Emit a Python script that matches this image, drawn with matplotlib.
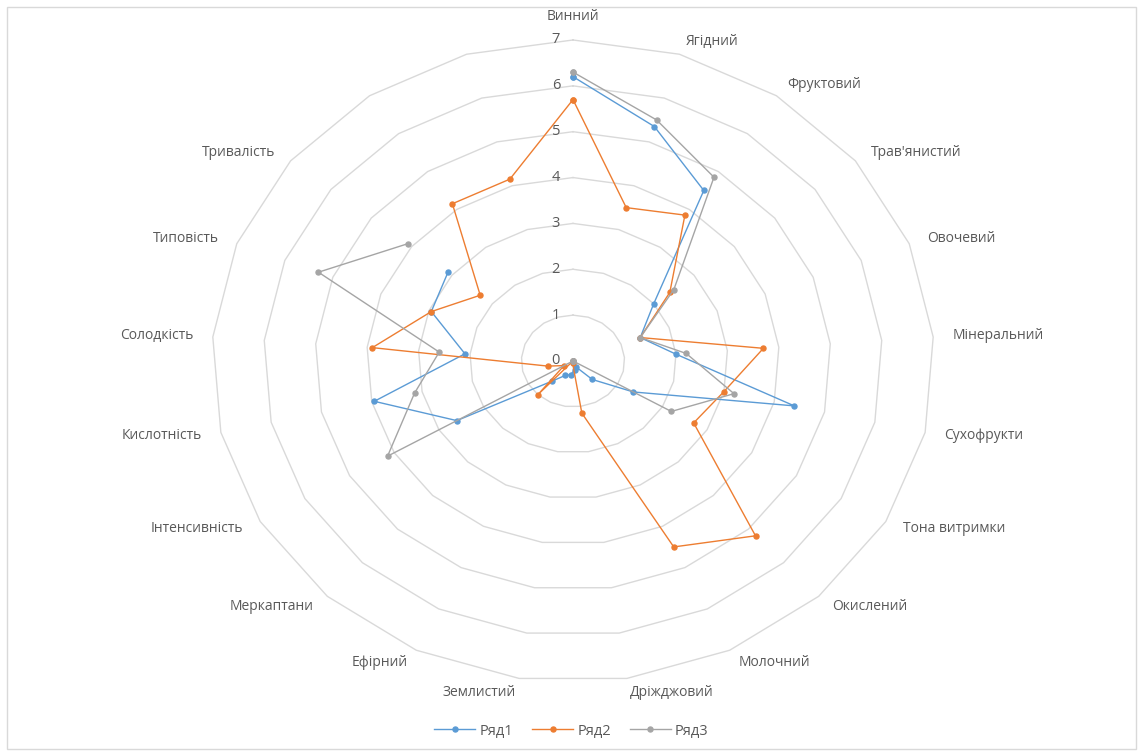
import numpy as np
import matplotlib
matplotlib.use("Agg")
import matplotlib.pyplot as plt
from matplotlib.patches import Rectangle

plt.rcParams['font.family'] = ['Open Sans', 'DejaVu Sans']

# radar categories (two last spokes have no name in the source sheet)
categories = ['Винний', 'Ягідний', 'Фруктовий', "Трав'янистий", 'Овочевий',
              'Мінеральний', 'Сухофрукти', 'Тона витримки', 'Окислений',
              'Молочний', 'Дріжджовий', 'Землистий', 'Ефірний', 'Меркаптани',
              'Інтенсивність', 'Кислотність', 'Солодкість', 'Типовість',
              'Тривалість', '', '']

nan = np.nan
row1 = [6.2, 5.35, 4.5, 2.0, 1.4, 2.0, 4.4, 1.35, 0.55, 0.15, 0.2,
        0.3, 0.35, 0.6, 2.6, 3.95, 2.1, 2.95, 3.1, nan, nan]
row2 = [5.7, 3.5, 3.85, 2.4, 1.4, 3.7, 3.0, 2.7, 5.2, 4.5, 1.15,
        0.05, 0.0, 1.0, 0.2, 0.5, 3.9, 2.95, 2.3, 4.15, 4.15]
row3 = [6.3, 5.5, 4.85, 2.5, 1.4, 2.2, 3.2, 2.2, 0.0, 0.0, 0.0,
        0.0, 0.0, 0.0, 4.15, 3.15, 2.6, 5.3, 4.1, nan, nan]
series_names = ['Ряд1', 'Ряд2', 'Ряд3']
colors = ['#5B9BD5', '#ED7D31', '#A5A5A5']
ticks = [0, 1, 2, 3, 4, 5, 6, 7]

W, H = 1143, 756
cx, cy = 573, 361          # centre in pixels
ux, uy = 51.6, 45.86       # pixels per unit (chart is stretched horizontally)

fig = plt.figure(figsize=(W / 100, H / 100), dpi=100)
ax = fig.add_axes([0, 0, 1, 1])
ax.set_xlim(-cx / ux, (W - cx) / ux)
ax.set_ylim((cy - H) / uy, cy / uy)
ax.axis('off')

n = len(categories)
theta = 2 * np.pi * np.arange(n) / n
sx, sy = np.sin(theta), np.cos(theta)

# polygon grid
for k in ticks[1:]:
    ax.plot(np.append(sx, sx[0]) * k, np.append(sy, sy[0]) * k,
            color='#D9D9D9', lw=1.0, zorder=1)

# value axis labels
for k in ticks:
    ax.text(-0.25, k, str(k), ha='right', va='center', fontsize=10.5,
            color='#595959')

# category labels
for lab, s, c in zip(categories, sx, sy):
    if abs(s) < 0.1:
        ax.text(0, 7.52 * c, lab, ha='center', va='center', fontsize=10,
                color='#595959')
    else:
        ax.text(7.38 * s, 7.3 * c, lab, ha='left' if s > 0 else 'right',
                va='center', fontsize=10, color='#595959')

# data series
for i, (vals, name, col) in enumerate(zip([row1, row2, row3], series_names, colors)):
    v = np.array(vals + [vals[0]], dtype=float)
    xs = v * np.append(sx, sx[0])
    ys = v * np.append(sy, sy[0])
    ax.plot(xs, ys, color=col, lw=1.0, marker='o', markersize=3.6,
            markeredgecolor=col, label=name, zorder=3 + i)

fig.legend(loc='center', bbox_to_anchor=(0.5, 1 - 731 / H), ncol=3,
           frameon=False, fontsize=10.5, handlelength=2.8,
           handletextpad=0.3, columnspacing=1.3, labelcolor='#595959')

fig.patches.append(Rectangle((7 / W, 1 - 749 / H), (1136 - 7) / W, (749 - 7) / H,
                             transform=fig.transFigure, fill=False,
                             edgecolor='#D9D9D9', lw=1.0))

fig.savefig('out.png', dpi=100)
